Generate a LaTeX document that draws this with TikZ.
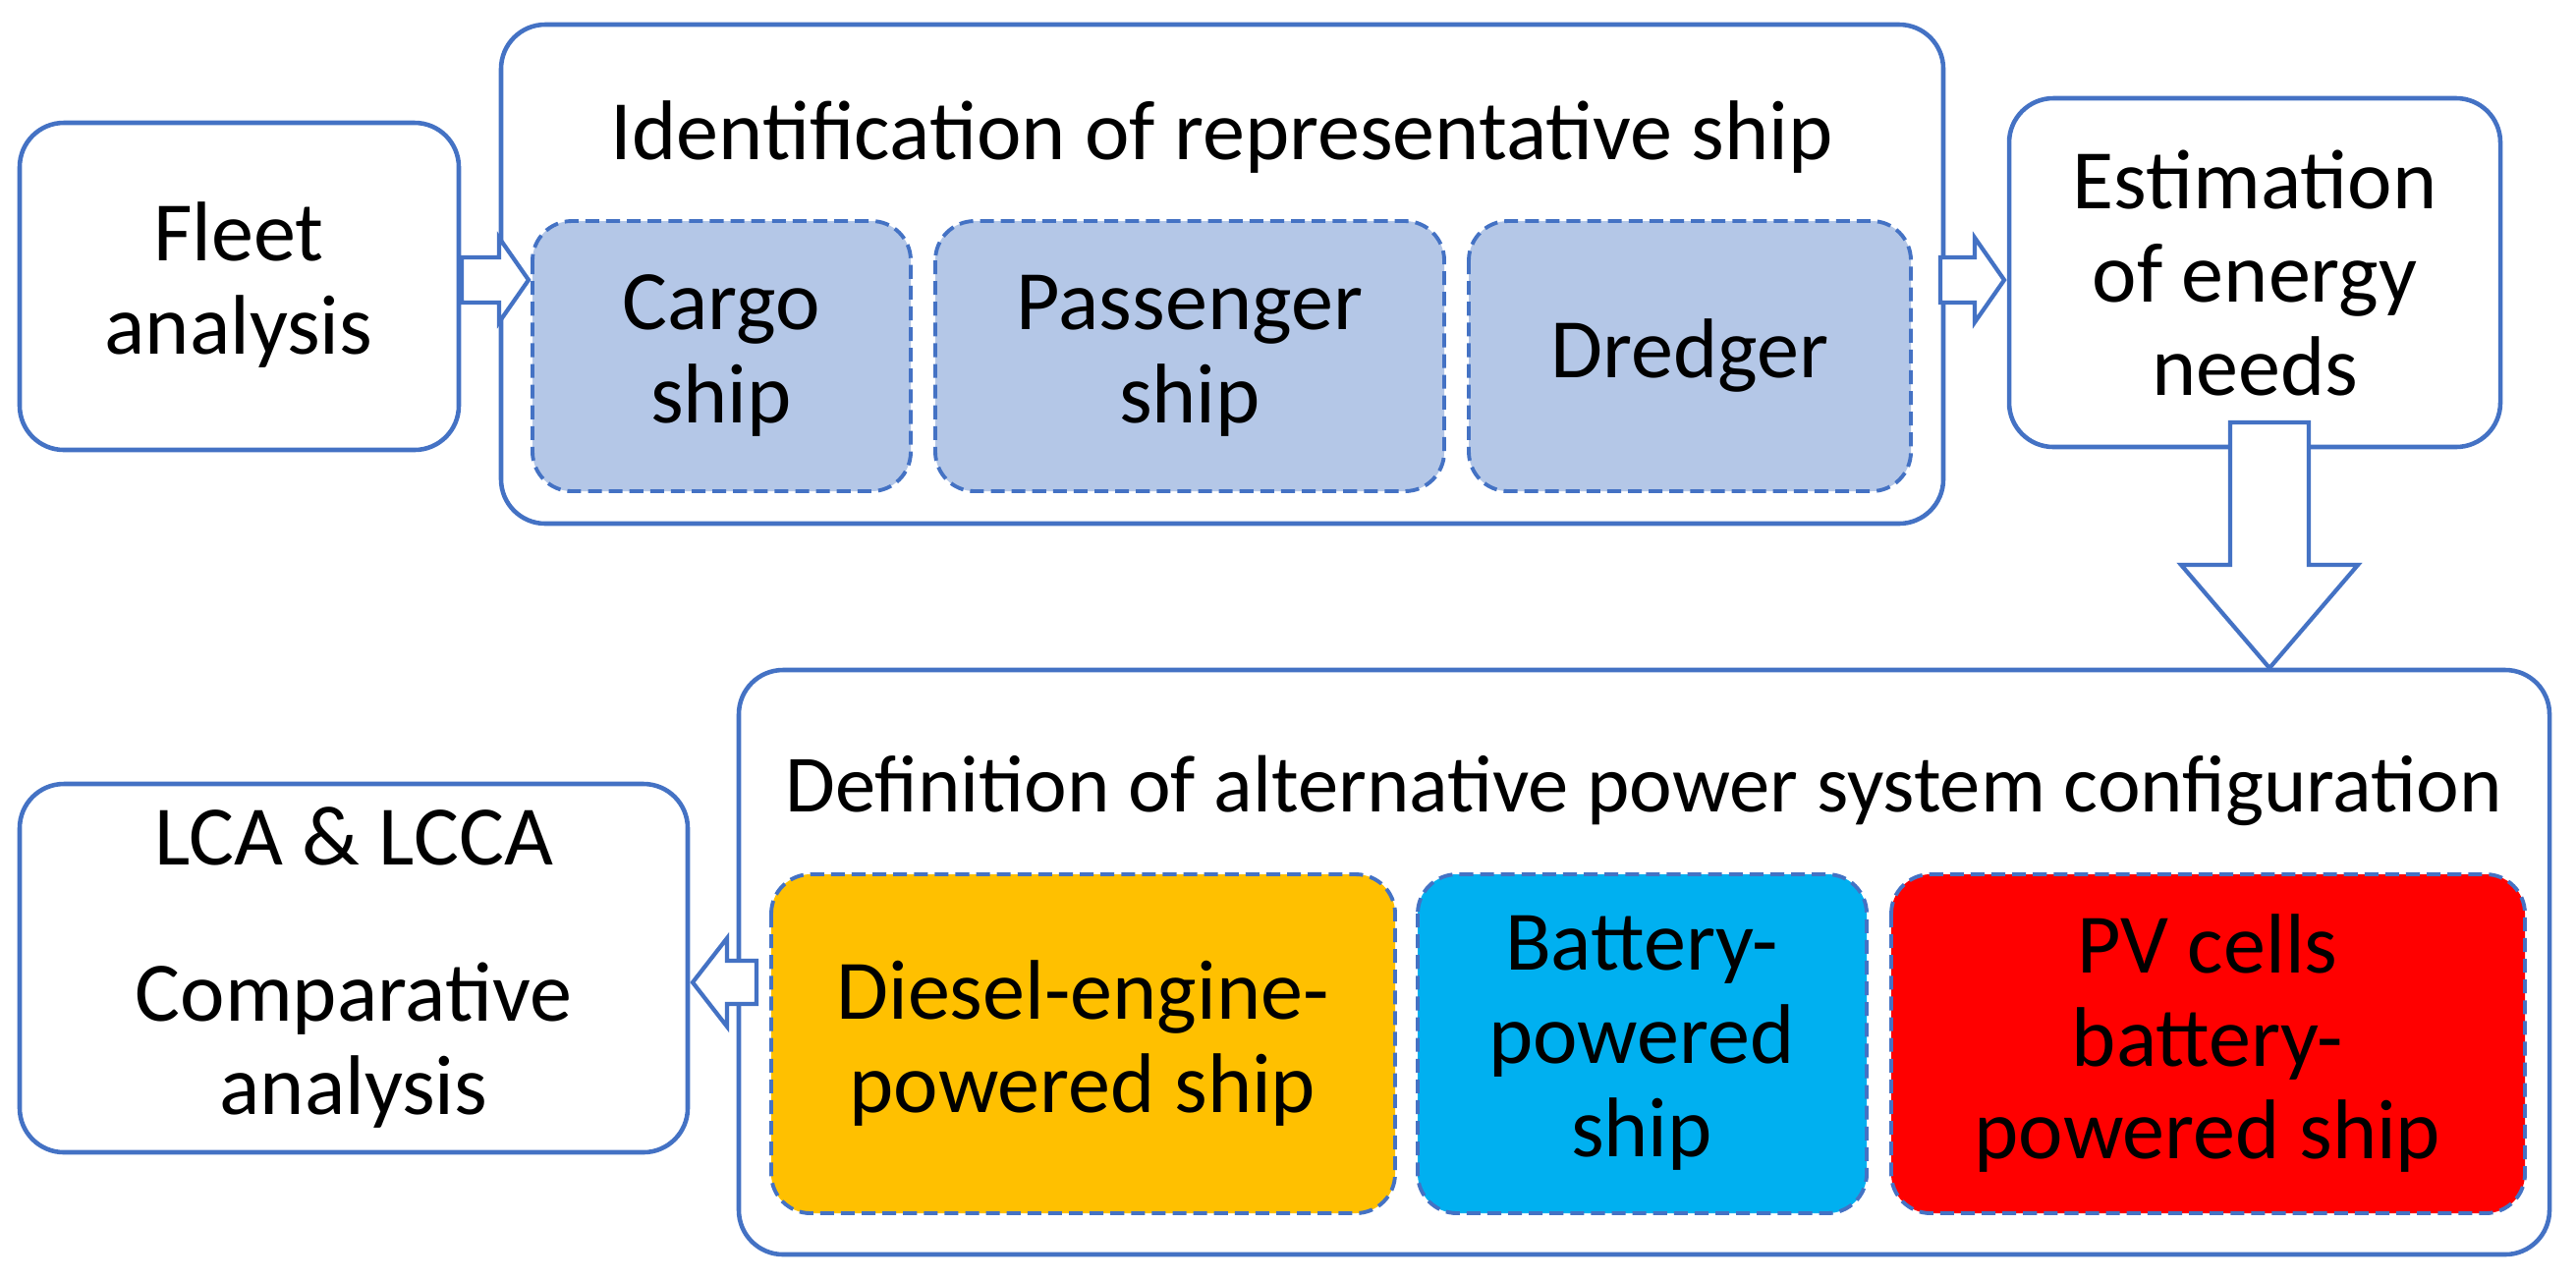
\documentclass[tikz,border=0pt]{standalone}
\usepackage{fontspec}
\setmainfont{Carlito}
\begin{document}
\begin{tikzpicture}[x=0.01cm,y=-0.01cm,
  box/.style={draw=bl,line width=1.3pt,rounded corners=0.45cm,fill=white},
  sub/.style={draw=bl,line width=1.1pt,dashed,dash pattern=on 4pt off 2pt,rounded corners=0.4cm},
  txt/.style={align=center,font=\fontsize{24.5}{27}\selectfont},
  arr/.style={draw=bl,line width=1.2pt,fill=white}]
\definecolor{bl}{HTML}{4472C4}
\definecolor{lb}{HTML}{B4C7E7}
\definecolor{yel}{HTML}{FFC000}
\definecolor{cy}{HTML}{00B0F0}
\useasboundingbox (0,0) rectangle (2622,1302);
% boxes
\draw[box] (20,125) rectangle (467,458);
\node[txt] (fleet) at (243,290) {Fleet\\analysis};
\draw[box] (510,25) rectangle (1978,533);
\node[txt] (ident) at (1244,140) {Identification of representative ship};
\draw[sub,fill=lb] (542,225) rectangle (927,500); \node[txt] (cargo) at (734,362) {Cargo\\ship};
\draw[sub,fill=lb] (952,225) rectangle (1470,500); \node[txt] (pass) at (1211,362) {Passenger\\ship};
\draw[sub,fill=lb] (1495,225) rectangle (1945,500); \node[txt] (dred) at (1720,362) {Dredger};
\draw[box] (2045,100) rectangle (2545,455);
\node[txt] (est) at (2295,278) {Estimation\\of energy\\needs};
\draw[box] (752,682) rectangle (2595,1277);
\node[txt,font=\fontsize{23.5}{27}\selectfont] (def) at (1673,805) {Definition of alternative power system configuration};
\draw[sub,fill=yel] (785,890) rectangle (1420,1235); \node[txt] (dies) at (1102,1062) {Diesel-engine-\\powered ship};
\draw[sub,fill=cy] (1443,890) rectangle (1900,1235); \node[txt] (batt) at (1671,1062) {Battery-\\powered\\ship};
\draw[sub,fill=red] (1925,890) rectangle (2570,1235); \node[txt] (pv) at (2247,1062) {PV cells\\battery-\\powered ship};
\draw[box] (20,798) rectangle (700,1173);
\node[txt] (lca) at (360,985) {LCA \& LCCA\\[18pt]Comparative\\analysis};
% arrows
\draw[arr] (470,262)--(508,262)--(508,242)--(538,285)--(508,328)--(508,308)--(470,308)--cycle;
\draw[arr] (1975,262)--(2010,262)--(2010,242)--(2040,285)--(2010,328)--(2010,308)--(1975,308)--cycle;
\draw[arr] (2270,430)--(2350,430)--(2350,575)--(2400,575)--(2310,680)--(2220,575)--(2270,575)--cycle;
\draw[arr] (770,978)--(740,978)--(740,955)--(705,1000)--(740,1045)--(740,1022)--(770,1022)--cycle;
\end{tikzpicture}
\end{document}
